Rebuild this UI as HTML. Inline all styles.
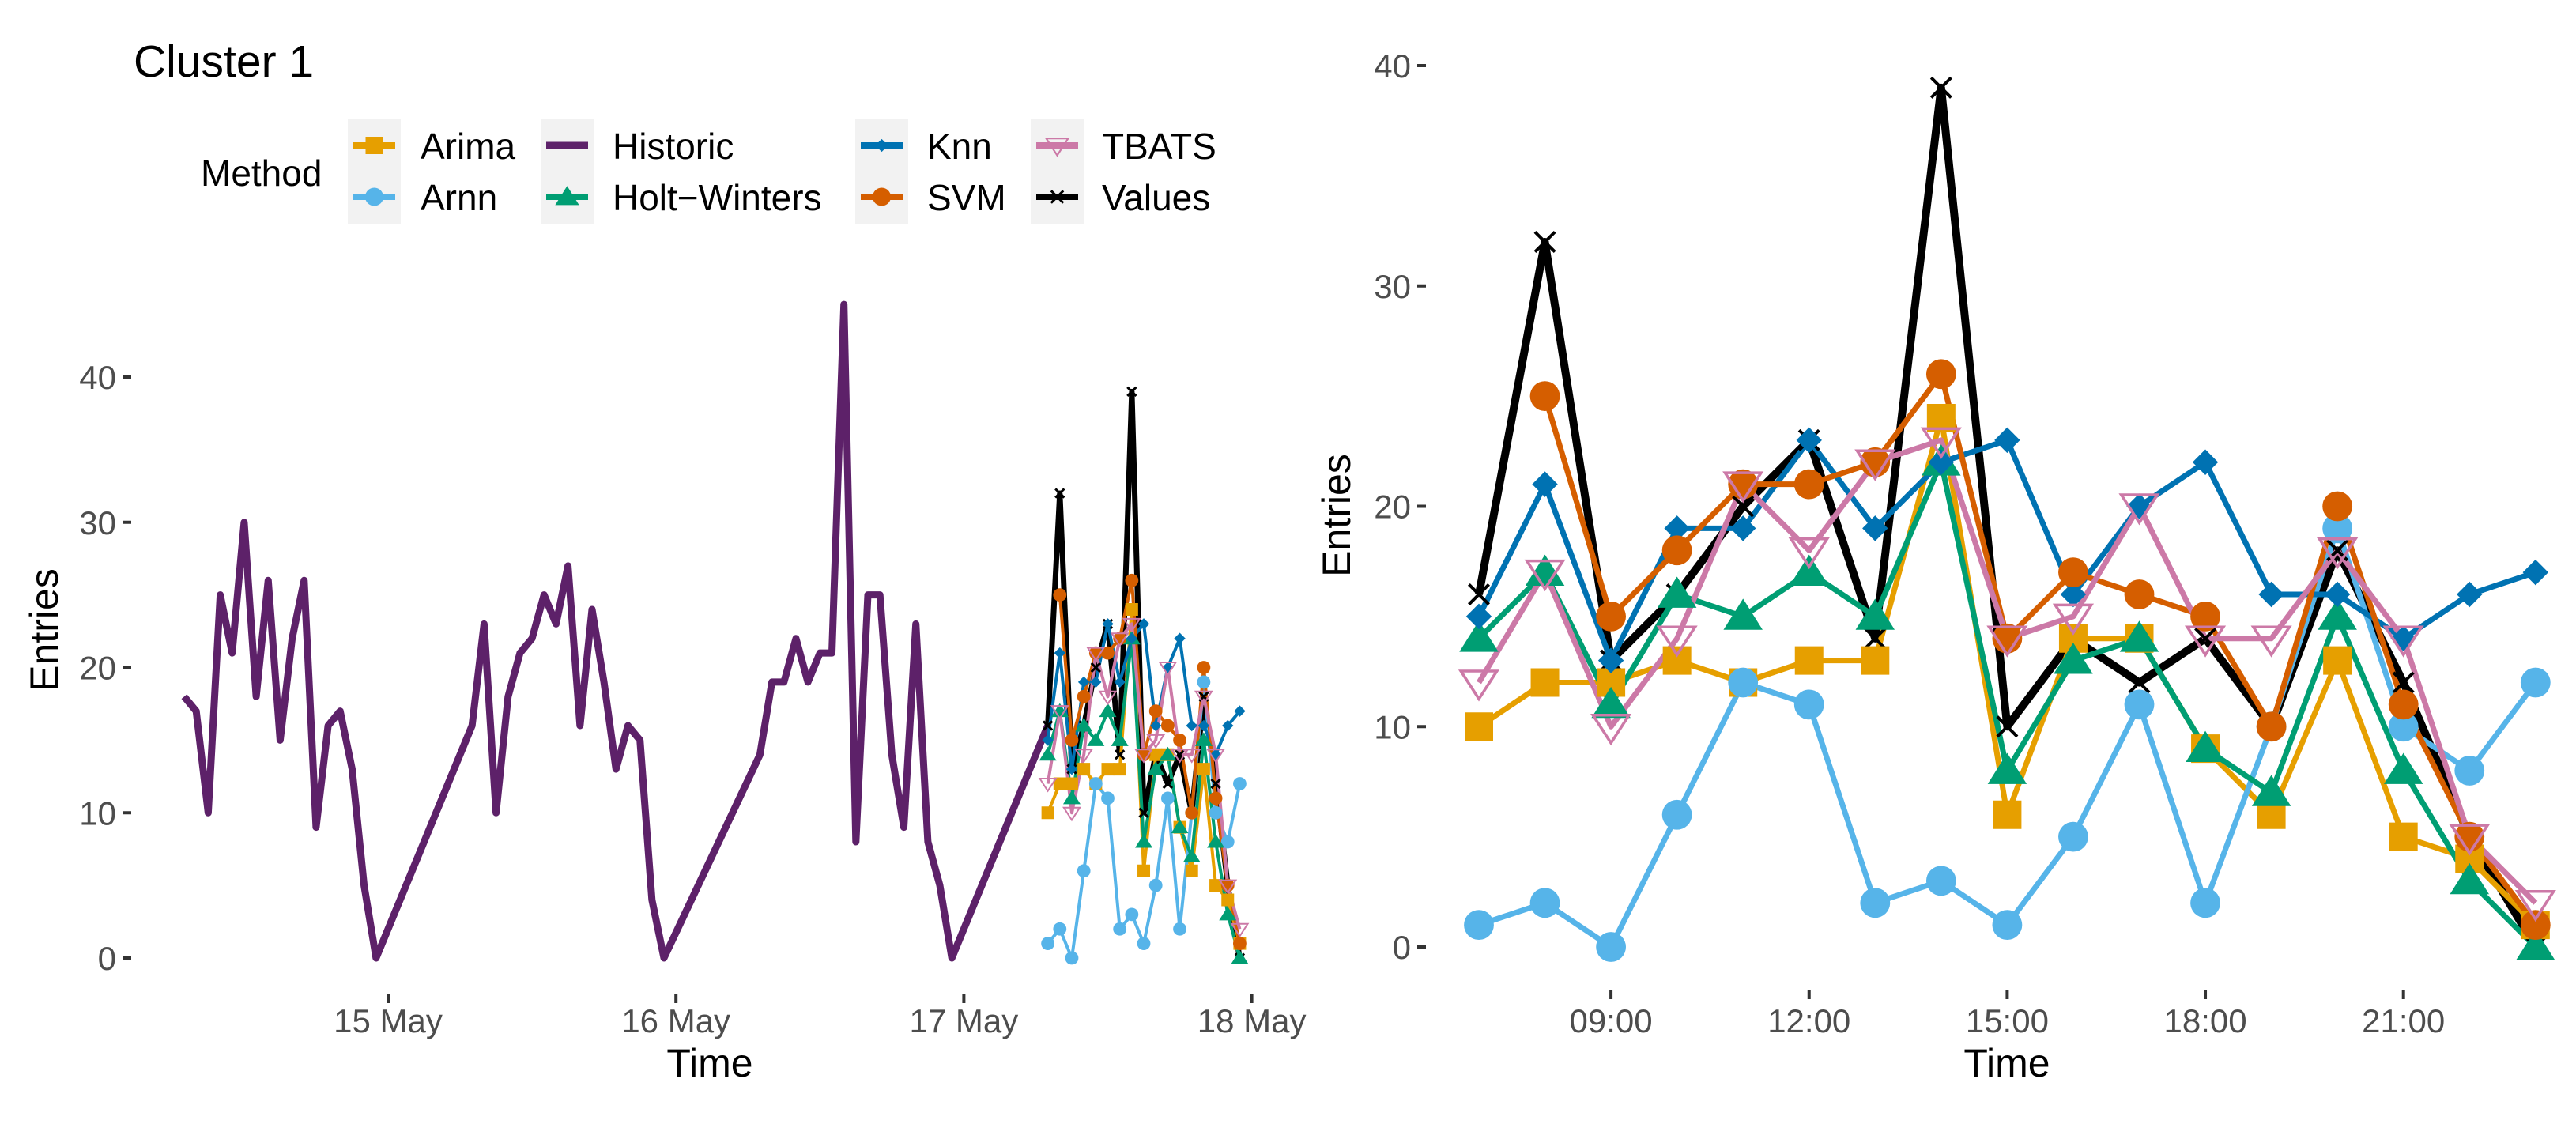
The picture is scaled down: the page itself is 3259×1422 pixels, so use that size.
<!DOCTYPE html>
<html><head><meta charset="utf-8"><style>
html,body{margin:0;padding:0;background:#fff;}
svg{display:block;font-family:"Liberation Sans",Arial,sans-serif;}
</style></head><body>
<svg id="chart" width="3259" height="1422" viewBox="0 0 3259 1422" xmlns="http://www.w3.org/2000/svg">
<text x="169" y="97" font-size="57" fill="#000">Cluster 1</text>
<g id="legend"></g>
<g id="left"></g>
<g id="right"></g>
</svg>
<script>
const hours = [7,8,9,10,11,12,13,14,15,16,17,18,19,20,21,22,23];
const historicDay14 = [18,17,10,25,21,30,18,26,15,22,26,9,16,17,13,5,0];
const historicDay15 = [16,23,10,18,21,22,25,23,27,16,24,19,13,16,15,4,0];
const historicDay16 = [14,19,19,22,19,21,21,45,8,25,25,14,9,23,8,5,0];
const historicDay17 = [16];
const arimaVals = [10,12,12,13,12,13,13,24,6,14,14,9,6,13,5,4,1];
const arnnVals = [1,2,0,6,12,11,2,3,1,5,11,2,10,19,10,8,12];
const hwVals = [14,17,11,16,15,17,15,22,8,13,14,9,7,15,8,3,0];
const knnVals = [15,21,13,19,19,23,19,22,23,16,20,22,16,16,14,16,17];
const svmVals = [null,25,15,18,21,21,22,26,14,17,16,15,10,20,11,5,1];
const tbatsVals = [12,17,10,14,21,18,22,23,14,15,20,14,14,18,14,5,2];
const actualVals = [16,32,13,16,20,23,14,39,10,14,12,14,10,18,12,5,0];
const yTicks = [0,10,20,30,40];
const dayLabels = ["15 May","16 May","17 May","18 May"];
const hourTickLabels = ["09:00","12:00","15:00","18:00","21:00"];
const hourTickValues = [9,12,15,18,21];

const NS="http://www.w3.org/2000/svg";
function mk(parent,tag,attrs){const e=document.createElementNS(NS,tag);for(const k in attrs)e.setAttribute(k,attrs[k]);parent.appendChild(e);return e;}

const series = [
 {name:"Values",vals:actualVals,color:"#000000",shape:"cross"},
 {name:"Arima",vals:arimaVals,color:"#E69F00",shape:"square"},
 {name:"Arnn",vals:arnnVals,color:"#56B4E9",shape:"circle"},
 {name:"Holt-Winters",vals:hwVals,color:"#009E73",shape:"triangle"},
 {name:"Knn",vals:knnVals,color:"#0072B2",shape:"diamond"},
 {name:"SVM",vals:svmVals,color:"#D55E00",shape:"circle"},
 {name:"TBATS",vals:tbatsVals,color:"#CC79A7",shape:"opentri"}
];

function marker(g,shape,x,y,s,color,nm){
 let e;
 if(shape==="square"){e=mk(g,"rect",{x:x-s,y:y-s,width:2*s,height:2*s,fill:color});}
 else if(shape==="circle"){e=mk(g,"circle",{cx:x,cy:y,r:s*1.05,fill:color});}
 else if(shape==="triangle"){const h=s*1.25;e=mk(g,"polygon",{points:`${x},${y-h} ${x-h*1.1},${y+h*0.75} ${x+h*1.1},${y+h*0.75}`,fill:color});}
 else if(shape==="diamond"){const d=s*0.9;e=mk(g,"polygon",{points:`${x},${y-d} ${x+d},${y} ${x},${y+d} ${x-d},${y}`,fill:color});}
 else if(shape==="opentri"){const h=s*1.15;e=mk(g,"polygon",{points:`${x-h*1.1},${y-h*0.7} ${x+h*1.1},${y-h*0.7} ${x},${y+h}`,fill:"none",stroke:color,"stroke-width":Math.max(2,s*0.2)});}
 else {const d=s*0.7;e=mk(g,"path",{d:`M${x-d},${y-d}L${x+d},${y+d}M${x-d},${y+d}L${x+d},${y-d}`,stroke:color,"stroke-width":Math.max(3,s*0.22),fill:"none"});}
 
 
}

function drawPanel(g,yf,opts){
 yTicks.forEach(t=>{
  const y=yf(t);
  const tl=mk(g,"line",{x1:opts.tickX0,x2:opts.tickX0+11,y1:y,y2:y,stroke:"#333","stroke-width":4});
  
  
  const tx=mk(g,"text",{x:opts.tickX0-8,y:y+15,"font-size":42,fill:"#4D4D4D","text-anchor":"end"});
  tx.textContent=t;
  
  
 });
}

function drawSeries(g,xs,yf,lw,blackW,ms){
 series.forEach(s=>{
  let d="";let pen=false;
  s.vals.forEach((v,i)=>{if(v===null){pen=false;return;}d+=(pen?"L":"M")+xs[i].toFixed(1)+","+yf(v).toFixed(1);pen=true;});
  const p=mk(g,"path",{d:d,fill:"none",stroke:s.color,"stroke-width":s.name==="Values"?blackW:lw,"stroke-linejoin":"round","stroke-linecap":"butt"});
  
  
 });
 series.forEach(s=>{
  s.vals.forEach((v,i)=>{if(v===null)return;marker(g,s.shape,xs[i],yf(v),ms,s.color,'point-'+s.name.toLowerCase());});
 });
}

// LEFT PANEL
const L=document.getElementById("left");
const dayX0=491, dayW=364.2;
const lx=(day,h)=>dayX0+(day-15)*dayW+h*dayW/24;
const ly=v=>1212-v*(1212-477)/40;
drawPanel(L,ly,{tickX0:155});
dayLabels.forEach((lab,i)=>{
 const x=lx(15+i,0);
 const t=mk(L,"line",{x1:x,x2:x,y1:1258,y2:1269,stroke:"#333","stroke-width":4});
 
 
 const tx=mk(L,"text",{x:x,y:1306,"font-size":42,fill:"#4D4D4D","text-anchor":"middle"});
 tx.textContent=lab;
 
 
});
{
 let d="";let first=true;
 [[14,historicDay14],[15,historicDay15],[16,historicDay16],[17,historicDay17]].forEach(([day,arr])=>{
  arr.forEach((v,i)=>{d+=(first?"M":"L")+lx(day,hours[i]).toFixed(1)+","+ly(v).toFixed(1);first=false;});
 });
 const p=mk(L,"path",{d:d,fill:"none",stroke:"#5D2169","stroke-width":9,"stroke-linejoin":"round"});
 
 
}
drawSeries(L,hours.map(h=>lx(17,h)),ly,4,7,8);
{
 const t=mk(L,"text",{x:898,y:1362,"font-size":50,fill:"#000","text-anchor":"middle"});t.textContent="Time";
 
 
 const e=mk(L,"text",{x:0,y:0,"font-size":50,fill:"#000","text-anchor":"middle",transform:"translate(73,797) rotate(-90)"});e.textContent="Entries";
 
 
}

// RIGHT PANEL
const R=document.getElementById("right");
const rx=h=>1871+(h-7)*83.55;
const ry=v=>1198-v*(1198-83)/40;
drawPanel(R,ry,{tickX0:1793});
hourTickValues.forEach((h,i)=>{
 const x=rx(h);
 const t=mk(R,"line",{x1:x,x2:x,y1:1253,y2:1264,stroke:"#333","stroke-width":4});
 
 
 const tx=mk(R,"text",{x:x,y:1306,"font-size":42,fill:"#4D4D4D","text-anchor":"middle"});
 tx.textContent=hourTickLabels[i];
 
 
});
drawSeries(R,hours.map(rx),ry,7,10,18);
{
 const t=mk(R,"text",{x:2539,y:1362,"font-size":50,fill:"#000","text-anchor":"middle"});t.textContent="Time";
 
 
 const e=mk(R,"text",{x:0,y:0,"font-size":50,fill:"#000","text-anchor":"middle",transform:"translate(1708,652) rotate(-90)"});e.textContent="Entries";
 
 
}

// LEGEND
const G=document.getElementById("legend");
{
 const t=mk(G,"text",{x:254,y:235,"font-size":46,fill:"#000"});t.textContent="Method";
 
 
}
const legendCols=[[440,532,["Arima","Arnn"]],[684,775,["Historic","Holt-Winters"]],[1082,1173,["Knn","SVM"]],[1304,1394,["TBATS","Values"]]];
const rowY=[184,249];
legendCols.forEach(([bx,tx,names])=>{
 const b=mk(G,"rect",{x:bx,y:151,width:67,height:132,fill:"#F2F2F2"});
 
 
 names.forEach((nm,r)=>{
  const y=rowY[r];
  const s=series.find(q=>q.name===nm);
  const color=s?s.color:"#5D2169";
  const l=mk(G,"line",{x1:bx+7,x2:bx+60,y1:y,y2:y,stroke:color,"stroke-width":nm==="Historic"?9:8});
  
  
  if(s)marker(G,s.shape,bx+33.5,y,s.shape==="diamond"?9:11,color,'legend-key-marker');
  const t=mk(G,"text",{x:tx,y:y+17,"font-size":46,fill:"#000"});t.textContent=nm==="Holt-Winters"?"Holt\u2212Winters":nm;
  
  
 });
});
</script>
</body></html>
